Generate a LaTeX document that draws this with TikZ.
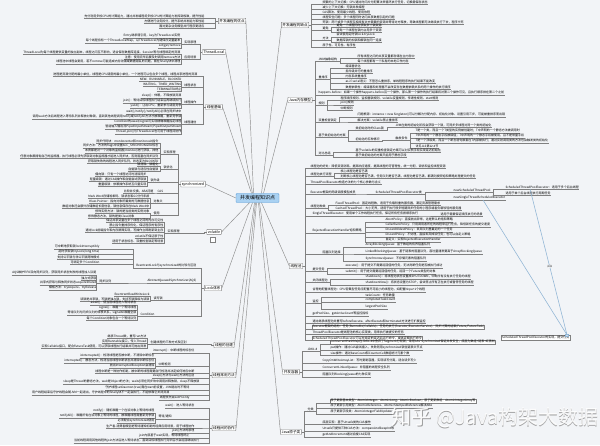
\documentclass[tikz,border=0pt]{standalone}
\usepackage{fontspec}
\newfontfamily\cjk{Noto Sans CJK SC}
\usetikzlibrary{calc}
\definecolor{bgc}{HTML}{F2F4F7}
\definecolor{lnc}{HTML}{808080}
\definecolor{bln}{HTML}{8FB4D4}
\definecolor{cfill}{HTML}{A9D1F2}
\definecolor{cdraw}{HTML}{5B9BD5}
\tikzset{
  ln/.style={draw=lnc,line width=0.35pt},
  leaf/.style={font=\cjk\fontsize{3}{3.4}\selectfont,inner sep=0.35pt,text=black,
    append after command={(\tikzlastnode.south west) edge[ln] (\tikzlastnode.south east)}},
  lrow/.style={leaf,anchor=south east},
  rrow/.style={leaf,anchor=south west},
  boxrow/.style={rrow,draw=lnc,fill=white},
  mainbox/.style={draw=lnc,fill=white,font=\cjk\fontsize{3.6}{4}\selectfont,inner sep=1.1pt,rounded corners=0.5pt,text=black},
  centre/.style={draw=cdraw,fill=cfill,font=\cjk\fontsize{5}{6}\selectfont,inner xsep=4pt,inner ysep=2.2pt,rounded corners=1pt},
  conn/.style={draw=lnc!90,line width=0.45pt},
  blueline/.style={draw=bln,line width=0.55pt},
}
\newcommand\LR[4]{\node[lrow] (#1) at (#2,#3) {#4};}
\newcommand\RR[4]{\node[rrow] (#1) at (#2,#3) {#4};}
\newcommand\bl[2]{\foreach \kid in {#2}{\draw[ln] (#1) -- ++(-2.5,0) |- (\kid.south east);}}
\newcommand\br[2]{\foreach \kid in {#2}{\draw[ln] (#1) -- ++(2.5,0) |- (\kid.south west);}}
\begin{document}
\begin{tikzpicture}[x=1pt,y=-1pt]
\fill[bgc] (0,0) rectangle (600,445);
\useasboundingbox (0,0) rectangle (600,445);

% ---------- centre ----------
\node[centre] (c) at (257.5,198) {并发编程知识点};

% ---------- main nodes ----------
\node[mainbox] (L0) at (232,21) {并发编程的优点};
\node[mainbox] (L1) at (214,52) {ThreadLocal};
\node[mainbox] (L2) at (214,107) {线程基础};
\node[mainbox] (L3) at (193,184) {synchronized};
\node[mainbox] (L4) at (214,232) {volatile};
\node[mainbox] (L5) at (213,288) {Lock体系};
\node[mainbox] (L6) at (224,345) {线程的创建};
\node[mainbox] (L7) at (224,375) {线程常用方法};
\node[mainbox] (L8) at (224,428) {线程间的协作};
\node[mainbox] (R1) at (295,25) {并发编程的缺点};
\node[mainbox] (R2) at (300,100) {Java内存模型};
\node[mainbox] (R3) at (296,266) {线程池};
\node[mainbox] (R4) at (291,372) {并发容器};
\node[mainbox] (R5) at (291,432) {Java原子类};
\node[draw=lnc,fill=white,minimum width=5pt,minimum height=5pt,inner sep=0pt] (mk) at (212.5,240) {};

% ---------- connectors from centre ----------
\draw[conn] ($(c.north)+(-4,0)$) -- (L0.east);
\draw[conn] ($(c.north)+(-5,0)$) -- (L1.east);
\draw[conn] ($(c.north)+(-6,0)$) -- (L2.east);
\draw[conn] ($(c.north)+(4,0)$) -- (R1.south west);
\draw[conn] ($(c.north)+(6,0)$) -- (R2.west);
\draw[conn] (c.west) -- (L3.east);
\draw[conn] ($(c.south)+(-8,0)$) -- (L4.east);
\draw[conn] ($(c.south)+(-5,0)$) -- (L5.east);
\draw[conn] ($(c.south)+(-3,0)$) -- (L6.east);
\draw[conn] ($(c.south)+(-2,0)$) -- (L7.east);
\draw[conn] ($(c.south)+(-1,0)$) -- (L8.east);
\draw[conn] ($(c.south)+(4,0)$) -- (R3.west);
\draw[conn] ($(c.south)+(2,0)$) -- (R4.west);
\draw[conn] ($(c.south)+(1,0)$) -- (R5.west);

% ================= LEFT =================
% L0
\LR{a1}{205}{18}{充分利用多核CPU的计算能力，通过并发编程将多核CPU的计算能力发挥到极致，提升性能}
\LR{a2}{205}{23}{方便进行业务拆分，提升系统并发能力和性能}
\LR{a3}{205}{28}{面对复杂业务模型并行程序更适应}
\bl{L0.west}{a1,a2,a3}

% L1
\LR{s1}{197}{44}{实现原理}
\LR{b1}{181}{38}{Entry继承弱引用，key为ThreadLocal实例}
\LR{b2}{181}{43}{每个线程持有一个ThreadLocalMap，以ThreadLocal为键保存变量副本}
\LR{b3}{181}{48}{set/get/remove}
\bl{s1.south west}{b1,b2,b3}
\LR{s2}{197}{59}{应用场景}
\LR{b4}{181}{54}{ThreadLocal为每个线程提供变量的独立副本，线程之间互不影响，适合保存数据库连接、Session等与线程绑定的资源}
\LR{b5}{181}{59}{注意：使用完毕后要及时调用remove方法}
\LR{b6}{181}{64}{线程池中线程会复用，若不remove可能造成内存泄漏或数据错乱的问题，需在finally块中清理}
\bl{s2.south west}{b4,b5,b6}
\bl{L1.west}{s1,s2}

% L2
\LR{c0}{198}{76}{进程是资源分配的最小单位，线程是CPU调度的最小单位，一个进程可以包含多个线程，线程共享进程的资源}
\LR{s3}{197}{87}{线程状态}
\LR{c1}{182}{81}{NEW、RUNNABLE、BLOCKED}
\LR{c2}{182}{86}{WAITING、TIMED\_WAITING}
\LR{c3}{182}{91}{TERMINATED终止}
\bl{s3.south west}{c1,c2,c3}
\LR{s4}{197}{104}{线程操作}
\LR{c4}{182}{98}{sleep()：休眠，不释放锁资源}
\LR{c5}{182}{103}{join()：等待目标线程执行结束后再继续执行}
\LR{c6}{182}{108}{yield()：让出CPU，重新参与调度竞争}
\bl{s4.south west}{c4,c5,c6}
\LR{s5}{197}{124}{线程通信}
\LR{c7}{182}{114}{wait()/notify()/notifyAll()必须在同步块中}
\LR{c8}{182}{119}{调用wait方法后线程进入等待队列并释放对象锁，直到其他线程调用notify或notifyAll方法才被唤醒，重新竞争锁}
\LR{c9}{182}{124}{Condition的await/signal可实现精确唤醒指定线程}
\LR{c10}{182}{129}{管道输入输出流PipedInputStream/PipedOutputStream}
\LR{c11}{182}{134}{Thread.join()与ThreadLocal也可用于线程间协作}
\bl{s5.south west}{c7,c8,c9,c10,c11}
\bl{L2.west}{c0,s3,s4,s5}

% L3
\RR{s6}{163}{154}{实现原理}
\LR{d1}{159}{143}{同步代码块：monitorenter和monitorexit指令}
\LR{d2}{159}{148}{同步方法：方法的flags中设置ACC\_SYNCHRONIZED标志}
\LR{d3}{159}{153}{本质都是对一个对象的监视器(monitor)进行获取，排他}
\LR{d4}{159}{158}{任意对象都拥有自己的监视器，执行线程必须先获取到对象监视器才能进入同步块，否则阻塞在同步队列}
\LR{d5}{159}{163}{获取锁失败的线程进入同步队列，状态变为BLOCKED}
\bl{s6.south west}{d1,d2,d3,d4,d5}
\RR{s7}{163}{169}{锁优化}
\LR{d6}{159}{166}{锁消除、锁粗化}
\LR{d7}{159}{171}{自旋锁与适应性自旋锁}
\bl{s7.south west}{d6,d7}
\RR{s8}{150}{182}{锁升级}
\LR{d8}{147}{176}{偏向锁：只有一个线程访问时消除同步}
\LR{d9}{147}{181}{轻量级锁：通过CAS操作和自旋尝试获取锁}
\LR{d10}{147}{186}{重量级锁：依赖操作系统互斥量实现}
\bl{s8.south west}{d8,d9,d10}
\RR{s9}{157}{193}{CAS}
\LR{d11}{154}{193}{比较并交换，ABA问题}
\bl{s9.south west}{d11}
\RR{s10}{153}{203}{对象头}
\LR{d12}{150}{198}{Mark Word存储哈希码、锁状态和GC分代年龄}
\LR{d13}{150}{203}{Klass Pointer：指向对象所属类的元数据信息}
\LR{d14}{150}{208}{数组对象还会额外存储数组长度信息，锁信息保存在Mark Word中}
\bl{s10.south west}{d12,d13,d14}
\RR{s11}{153}{215}{使用}
\LR{d15}{150}{213}{修饰实例方法：锁的是当前类的实例对象}
\LR{d16}{135}{218}{修饰静态方法，锁的是类Class对象}
\bl{s11.south west}{d15,d16}
\bl{L3.west}{s6,s7,s8,s9,s10,s11}

% L4
\RR{s12}{167}{233}{实现原理}
\LR{e1}{164}{222}{保证共享变量在多个线程之间的内存可见性}
\LR{e2}{164}{227}{禁止指令重排序优化，保证程序的有序性}
\LR{e3}{164}{232}{通过lock前缀指令和内存屏障实现，写操作立即刷新到主存}
\LR{e4}{164}{238}{volatile不保证原子性}
\LR{e5}{164}{243}{适用于状态标志、双重检查锁定等场景}
\bl{s12.south west}{e1,e2,e3,e4,e5}
\bl{L4.west}{s12}

% L5
\LR{s13}{197}{268}{ReentrantLock与synchronized的比较与区别}
\LR{f1}{100}{249}{可中断地获取锁lockInterruptibly}
\LR{f2}{100}{254}{超时获取锁tryLock(long time)}
\LR{f3}{100}{259}{支持公平锁与非公平锁两种模式}
\LR{f4}{100}{264}{可绑定多个Condition}
\bl{s13.south west}{f1,f2,f3,f4}
\LR{s14}{197}{283}{AbstractQueuedSynchronizer(AQS)}
\LR{s14b}{112}{283}{同步队列}
\LR{f5}{97}{275}{AQS维护FIFO双向同步队列，获取同步状态失败的线程加入队尾}
\LR{f6}{97}{280}{独占式获取}
\LR{f7}{97}{285}{共享式获取与释放同步状态acquireShared}
\LR{f8}{97}{290}{模板方法：tryAcquire、tryRelease}
\bl{s14b.south west}{f5,f6,f7,f8}
\bl{s14.south west}{s14b}
\RR{s15}{153}{300}{读写锁}
\LR{g1}{150}{296}{ReentrantReadWriteLock}
\LR{g2}{150}{301}{读锁是共享锁，写锁是独占锁，支持写锁降级为读锁}
\bl{s15.south west}{g1,g2}
\RR{s16}{140}{316}{Condition}
\LR{g3}{137}{305}{await()：使当前线程进入等待状态}
\LR{g4}{137}{310}{signal()：唤醒一个等待线程}
\LR{g5}{137}{315}{等待队列与同步队列的转移关系，signalAll唤醒全部}
\LR{g6}{137}{320}{每个Condition对象包含一个等待队列}
\bl{s16.south west}{g3,g4,g5,g6}
\bl{L5.west}{s13,s14,s15,s16}

% L6
\RR{s17}{150}{344}{创建线程的三种方式及区别}
\LR{h1}{147}{338}{继承Thread类，重写run方法}
\LR{h2}{147}{343}{实现Runnable接口，传入Thread}
\LR{h3}{147}{348}{实现Callable接口，配合FutureTask使用，可以获取线程执行结果并可抛出异常}
\bl{s17.south west}{h1,h2,h3}
\bl{L6.west}{s17}

% L7
\LR{j1}{195}{353}{interrupt()：中断线程的标志位}
\RR{t1}{158}{366}{中断检测}
\LR{j2}{155}{358}{isInterrupted()：检测线程是否被中断，不清除中断标志}
\LR{j3}{155}{363}{interrupted()：静态方法，检测当前线程中断状态并清除中断标志位}
\LR{j4}{155}{368}{抛出InterruptedException会清除}
\bl{t1.south west}{j2,j3,j4}
\LR{j5}{195}{373}{线程中断是一种协作机制，被中断的线程需要自行检测并决定如何响应中断}
\LR{j6}{195}{378}{sleep()方法与wait()方法的区别}
\LR{j7}{200}{384}{sleep是Thread的静态方法，wait是Object的方法；wait必须在同步块中调用并释放锁，sleep不释放锁}
\LR{j8}{190}{390}{守护线程setDaemon(true)需在start前设置，JVM退出时不等待}
\LR{j9}{170}{395}{用户线程结束后守护线程会随JVM一起退出，守护线程中的finally块不一定会执行，不能依靠它关闭资源}
\LR{j10}{190}{400}{线程优先级setPriority}
\bl{L7.west}{j1,t1,j5,j6,j7,j8,j9,j10}

% L8
\LR{k1}{195}{408}{wait()：进入等待状态}
\RR{t2}{158}{419}{等待/通知}
\LR{k2}{155}{413}{notify()：随机唤醒一个在该对象上等待的线程}
\LR{k3}{155}{418}{notifyAll()：唤醒所有在该对象上等待的线程，被唤醒线程需重新竞争锁}
\LR{k4}{155}{423}{必须配合synchronized使用}
\bl{t2.south west}{k2,k3,k4}
\LR{k5}{195}{428}{生产者-消费者模型是等待通知机制的经典应用场景，用于线程协作}
\LR{k6}{195}{433}{join()方法的原理}
\LR{k8}{190}{438}{join内部基于wait实现，等待线程终止}
\LR{k7}{200}{443}{当前线程调用其他线程的join方法后进入等待状态，直到目标线程执行完毕后才会返回继续执行}
\bl{L8.west}{k1,t2,k5,k6,k8,k7}

% ================= RIGHT =================
% R1
\RR{o1}{322}{4}{频繁的上下文切换：CPU通过时间片分配算法来循环执行任务，切换需保存状态}
\RR{o2}{322}{9}{减少上下文切换：无锁并发编程}
\RR{o3}{322}{14}{CAS算法、使用最少线程、使用协程}
\RR{o4}{322}{19}{线程安全问题：多个线程同时访问共享数据引起的问题}
\RR{o5}{322}{24}{死锁：两个或多个线程互相持有对方需要的资源并等待对方释放，导致线程都无法继续执行下去，程序卡死}
\RR{o6}{322}{30}{避免}
\RR{o6a}{336}{27}{避免一个线程同时获取多个锁资源}
\RR{o6b}{336}{32}{避免一个线程在锁内占用多个资源}
\br{o6.south east}{o6a,o6b}
\RR{o7}{322}{40}{方法}
\RR{o7a}{336}{37}{尝试使用定时锁lock.tryLock}
\RR{o7b}{336}{42}{数据库锁的加锁和解锁在同一连接}
\br{o7.south east}{o7a,o7b}
\RR{o8}{322}{47}{原子性、可见性、有序性}
\br{R1.east}{o1,o2,o3,o4,o5,o6,o7,o8}

% R2
\RR{q1}{318}{61}{JMM抽象结构}
\RR{q1a}{357}{58}{所有线程之间的共享变量都存储在主内存中}
\RR{q1b}{357}{63}{每个线程都有一个私有的本地工作内存}
\br{q1.south east}{q1a,q1b}
\RR{q2}{318}{79}{重排序}
\RR{q2a}{345}{68}{编译器优化}
\RR{q2b}{345}{73}{指令级并行的重排序}
\RR{q2c}{345}{78}{内存系统重排序}
\RR{q2d}{345}{83}{as-if-serial语义：不管怎么重排序，单线程程序的执行结果不能改变}
\RR{q2e}{345}{89}{数据依赖性：编译器和处理器不会改变存在数据依赖关系的两个操作的执行顺序}
\br{q2.south east}{q2a,q2b,q2c,q2d,q2e}
\RR{q3}{318}{95}{happens-before：如果一个操作happens-before另一个操作，那么第一个操作的执行结果将对第二个操作可见，且执行顺序排在第二个之前}
\RR{q4}{318}{105}{规则}
\RR{q4a}{340}{100}{程序顺序规则、监视器锁规则、volatile变量规则、传递性规则、start规则}
\RR{q4b}{340}{105}{join()规则}
\RR{q4c}{340}{110}{中断规则}
\br{q4.south east}{q4a,q4b,q4c}
\RR{q5}{318}{122}{双重检查锁定}
\RR{q5a}{357}{117}{问题根源：instance = new Singleton()可以分解为分配内存、初始化对象、设置引用三步，可能被重排序而出错}
\RR{q5b}{357}{122}{解决方案：volatile禁止重排序}
\br{q5.south east}{q5a,q5b}
\RR{q6}{318}{137}{基于类初始化的方案}
\RR{q7}{355}{130}{类初始化时的Class锁}
\RR{q7a}{395}{127}{JVM在类的初始化阶段会获取一个锁，可同步多线程对同一个类的初始化}
\br{q7.south east}{q7a}
\RR{q8}{355}{141}{初始化的五种情况}
\RR{q9}{395}{140}{触发条件}
\RR{q9a}{415}{133}{T是一个类，而且一个T类型的实例被创建时；T中声明的一个静态方法被调用时}
\RR{q9b}{415}{138}{T中声明的一个静态字段被赋值；T中声明的一个静态字段被使用，且不是常量字段}
\RR{q9c}{415}{143}{T是一个顶级类，而且一个断言语句嵌套在T内部被执行；通过反射调用类的方法也会触发类的初始化}
\RR{q9d}{415}{148}{详见JLS第12.4节}
\br{q9.south east}{q9a,q9b,q9c,q9d}
\br{q8.south east}{q9}
\br{q6.south east}{q7,q8}
\RR{q10}{318}{155}{对比总结}
\RR{q10a}{355}{152}{基于volatile的双重检查锁定方案可以对实例字段实现延迟初始化}
\RR{q10b}{355}{157}{基于类初始化的方案只能用于静态字段}
\br{q10.south east}{q10a,q10b}
\br{R2.east}{q1,q2,q3,q4,q5,q6,q10}

% R3
\RR{p1}{310}{168}{线程池的好处：降低资源消耗、提高响应速度、提高线程的可管理性，统一分配、调优和监控线程资源}
\RR{v1}{310}{176}{线程池执行流程}
\RR{p2}{340}{173}{核心线程池是否已满}
\RR{p3}{340}{178}{判断核心线程池是否已满，任务队列是否已满，线程池是否已满，都满则按照饱和策略处理提交的任务}
\br{v1.south east}{p2,p3}
\RR{p4}{310}{184}{ThreadPoolExecutor构造方法的七个核心参数与含义}
\RR{v2}{310}{194}{Executor框架的两级调度模型成员}
\RR{v3}{375}{194}{ScheduledThreadPoolExecutor类}
\RR{v4a}{453}{192}{newScheduledThreadPool}
\RR{v4b}{453}{200}{newSingleThreadScheduledExecutor}
\RR{w1}{505}{189}{ScheduledThreadPoolExecutor：适用于多个后台线程}
\RR{w2}{505}{195}{适用于单个后台线程执行周期任务}
\br{v4a.south east}{w1,w2}
\br{v3.south east}{v4a,v4b}
\br{v2.south east}{v3}
\RR{v5}{310}{208}{线程池种类}
\RR{p5}{335}{205}{FixedThreadPool：固定线程数，适用于负载较重的服务器，满足资源管理需求}
\RR{p6}{335}{210}{CachedThreadPool：大小无界，适用于执行很多短期异步任务的小程序或者负载较轻的服务器}
\br{v5.south east}{p5,p6}
\RR{p7}{312}{216}{SingleThreadExecutor：使用单个工作线程执行任务，保证所有任务按顺序执行}
\RR{p7b}{440}{216}{适用于需要保证顺序执行的场景}
\br{p7.south east}{p7b}
\RR{v7}{312}{233}{RejectedExecutionHandler饱和策略}
\RR{p8}{385}{222}{AbortPolicy：直接抛出异常，这是默认的饱和策略}
\RR{p9}{385}{227}{CallerRunsPolicy：只用调用者所在的线程来运行任务，降低新任务的提交速度}
\RR{p10}{385}{232}{DiscardOldestPolicy：丢弃队列里最近的一个任务}
\RR{p11}{385}{237}{DiscardPolicy：不处理，直接丢弃掉该任务；也可以自定义策略}
\RR{p12}{385}{242}{自定义：实现RejectedExecutionHandler}
\br{v7.south east}{p8,p9,p10,p11,p12}
\RR{v8}{322}{254}{阻塞队列选择}
\RR{p13}{365}{247}{ArrayBlockingQueue：基于数组的有界阻塞队列}
\RR{p14}{365}{254}{LinkedBlockingQueue：基于链表的阻塞队列，吞吐量通常要高于ArrayBlockingQueue}
\RR{p15}{365}{261}{SynchronousQueue：不存储元素的阻塞队列}
\br{v8.south east}{p13,p14,p15}
\RR{v9}{312}{271}{提交任务}
\RR{p16}{345}{268}{execute()：用于提交不需要返回值的任务，无法判断任务是否被执行成功}
\RR{p17}{345}{274}{submit()：用于提交需要返回值的任务，返回一个Future类型的对象}
\br{v9.south east}{p16,p17}
\RR{v10}{312}{282}{关闭线程池}
\RR{p18}{365}{279}{shutdown()：将线程池状态设置成SHUTDOWN，中断所有没有执行任务的线程}
\RR{p19}{365}{285}{shutdownNow()：将状态设置为STOP，尝试停止所有正在执行或暂停任务的线程}
\br{v10.south east}{p18,p19}
\RR{p20}{312}{292}{合理地配置线程池：CPU密集型任务应配置尽可能小的线程池，如配置Ncpu+1个线程}
\RR{v11}{312}{303}{监控}
\RR{p21}{365}{297}{taskCount：任务数量}
\RR{p22}{365}{302}{completedTaskCount}
\RR{p23}{365}{309}{largestPoolSize}
\br{v11.south east}{p21,p22,p23}
\RR{p24}{312}{316}{getPoolSize、getActiveCount等监控指标}
\RR{p25}{312}{323}{通过继承线程池并重写beforeExecute、afterExecute和terminated方法进行扩展监控}
\node[boxrow] (p26) at (312,329) {Executor框架的结构：任务(Runnable/Callable)、任务的执行(Executor/ExecutorService)、异步计算的结果(Future/FutureTask)};
\RR{p27}{312}{334}{ThreadPoolExecutor是线程池的核心实现类，用来执行被提交的任务}
\node[boxrow] (p28) at (312,340) {ScheduledThreadPoolExecutor可以在给定的延迟后运行命令，或者定期执行命令};
\br{R3.east}{p1,v1,p4,v2,v5,p7,v7,v8,v9,v10,p20,v11,p24,p25,p26,p27,p28}

% floating note with blue relation lines
\node[draw=lnc,fill=white,anchor=west,font=\cjk\fontsize{3}{3.4}\selectfont,inner sep=1pt] (x1) at (501,337.5) {ScheduledThreadPoolExecutor的实现，提交任务};
\coordinate (xj) at ($(x1.north west)+(66,0)$);
\draw[blueline] ($(v4b.south west)+(30,0)$) -- (xj);
\draw[blueline] ($(w1.south west)+(25,0)$) -- node[pos=0.53,fill=bgc,font=\cjk\fontsize{2.6}{3}\selectfont,inner sep=0.3pt,text=black!70] (lbl) {关联} (xj);
\node[draw=bln,fill=bln!40,minimum width=3pt,minimum height=2pt,inner sep=0pt] (xm) at (xj) {};

% R4
\RR{u1}{307}{351}{JDK1.8}
\node[boxrow] (u1a) at (330,344) {ConcurrentHashMap在JDK1.8中舍弃了Segment分段锁，采用CAS+synchronized保证并发安全，底层为数组+链表+红黑树};
\RR{u1b}{330}{350}{put操作：通过CAS尝试插入，失败则用synchronized锁住链表头节点}
\RR{u1c}{330}{355}{size操作：通过baseCount和CounterCell数组统计元素个数}
\br{u1.south east}{u1a,u1b,u1c}
\RR{u2}{322}{363}{CopyOnWriteArrayList：写时复制容器，实现读写分离，适合读多写少}
\RR{u3}{322}{370}{ConcurrentLinkedQueue：非阻塞的线程安全队列}
\RR{u4}{322}{377}{阻塞队列BlockingQueue的七种实现}
\br{R4.east}{u1,u2,u3,u4}

% R5
\RR{u5}{307}{411}{分类}
\node[boxrow] (u5a) at (330,403) {原子更新基本类型：AtomicInteger、AtomicLong、AtomicBoolean；原子更新数组：AtomicIntegerArray等};
\RR{u5b}{330}{408}{原子更新引用类型：AtomicReference、AtomicStampedReference解决ABA}
\RR{u5c}{330}{414}{原子更新字段类：AtomicIntegerFieldUpdater}
\br{u5.south east}{u5a,u5b,u5c}
\RR{u6}{322}{424}{底层实现：基于Unsafe类的CAS操作}
\RR{u7}{322}{431}{Unsafe只提供三种CAS方法：compareAndSwapInt等}
\RR{u8}{322}{437}{getAndIncrement通过自旋CAS实现}
\br{R5.east}{u5,u6,u7,u8}

% ---------- watermark ----------
\node[font=\cjk\fontsize{20}{22}\selectfont,text=black!45,opacity=0.8] (wms) at (495.6,418.6) {知乎 @Java构架大数据};
\node[font=\cjk\fontsize{20}{22}\selectfont,text=white,opacity=0.9] (wm) at (495,418) {知乎 @Java构架大数据};
\end{tikzpicture}
\end{document}
